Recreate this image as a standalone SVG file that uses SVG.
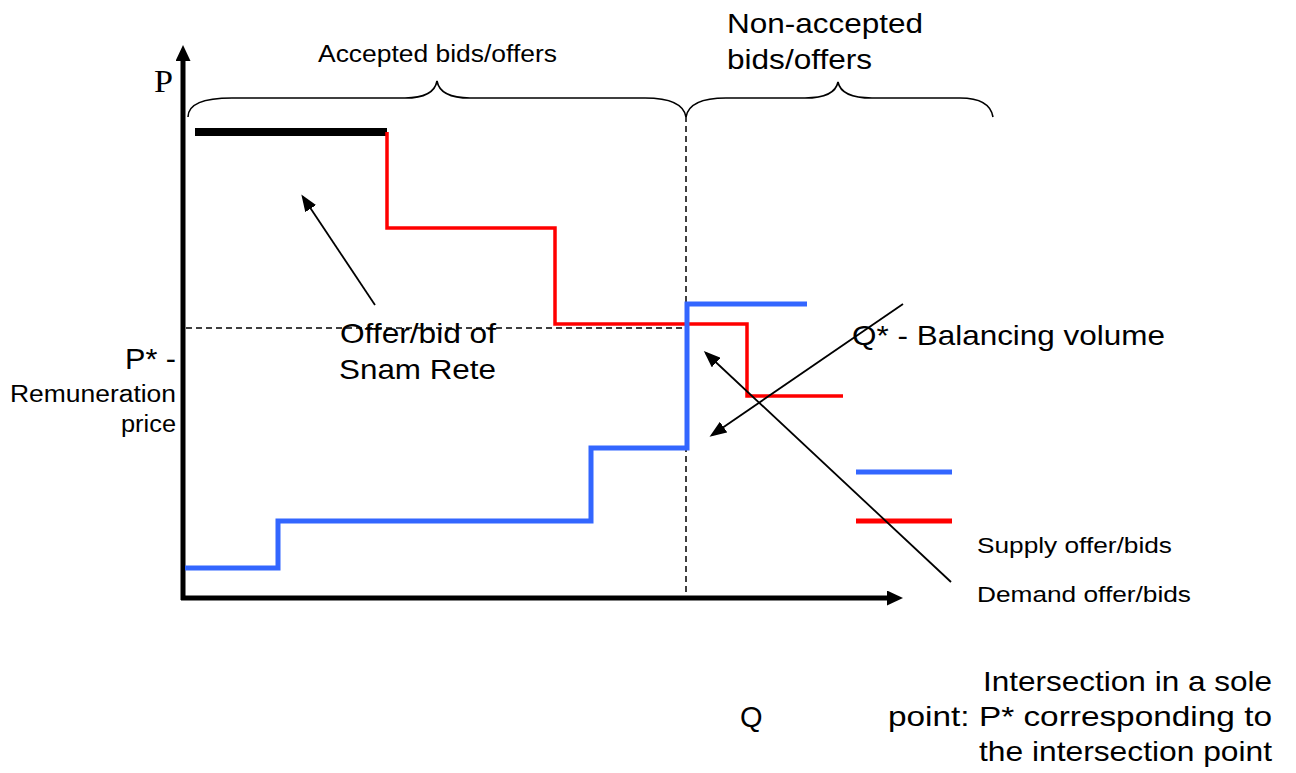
<svg xmlns="http://www.w3.org/2000/svg" width="1296" height="773" viewBox="0 0 1296 773">
<style>
  .t { font-family: "Liberation Sans", Arial, sans-serif; fill: #000; }
  .serif { font-family: "Liberation Serif", "Times New Roman", serif; fill: #000; }
  .axis { stroke: #000; stroke-width: 5; fill: none; }
  .dash { stroke: #000; stroke-width: 1.5; stroke-dasharray: 6 4; fill: none; }
  .brace { stroke: #000; stroke-width: 1.6; fill: none; }
  .supply { stroke: #3366ff; stroke-width: 5; fill: none; }
  .demand { stroke: #ff0000; stroke-width: 3.5; fill: none; }
  .ptr { stroke: #000; stroke-width: 1.8; fill: none; marker-end: url(#ah); }
</style>
<defs>
  <marker id="axh" markerUnits="userSpaceOnUse" markerWidth="16" markerHeight="15" refX="1" refY="7.5" orient="auto">
    <path d="M0,0 L16,7.5 L0,15 z" fill="#000"/>
  </marker>
  <marker id="ah" markerUnits="userSpaceOnUse" markerWidth="17" markerHeight="13" refX="14" refY="6.5" orient="auto">
    <path d="M0,0 L17,6.5 L0,13 z" fill="#000"/>
  </marker>
</defs>
<rect width="1296" height="773" fill="#fff"/>

<g id="axes">
  <line class="axis" x1="183" y1="600" x2="183" y2="60" marker-end="url(#axh)"/>
  <line class="axis" x1="181" y1="598" x2="888" y2="598" marker-end="url(#axh)"/>
  <text class="serif" x="154" y="92" font-size="31" textLength="19" lengthAdjust="spacingAndGlyphs">P</text>
  <text class="t" x="740" y="727" font-size="29">Q</text>
</g>

<g id="guides">
  <line class="dash" x1="686" y1="116" x2="686" y2="597"/>
  <line class="dash" x1="186" y1="328" x2="686" y2="328"/>
</g>

<g id="brace-accepted">
  <path class="brace" d="M188,117 C188,105 200,98 232,98 L405,98 C425,98 435,92 437,81 C439,92 449,98 470,98 L645,98 C670,98 684,105 686,117"/>
  <text class="t" x="318" y="62" font-size="23.5" textLength="239" lengthAdjust="spacingAndGlyphs">Accepted bids/offers</text>
</g>

<g id="brace-nonaccepted">
  <path class="brace" d="M686,117 C688,105 700,98 726,98 L805,98 C825,98 836,92 838,82 C840,92 851,98 872,98 L960,98 C982,98 991,105 993,117"/>
  <text class="t" x="727" y="33" font-size="27.5" textLength="196" lengthAdjust="spacingAndGlyphs">Non-accepted</text>
  <text class="t" x="727" y="69" font-size="27.5" textLength="145" lengthAdjust="spacingAndGlyphs">bids/offers</text>
</g>

<g id="snam-bar">
  <line x1="195" y1="132" x2="387" y2="132" stroke="#000" stroke-width="8"/>
</g>

<g id="demand-curve">
  <path class="demand" d="M387,132 V228 H555 V324 H747 V396 H843"/>
</g>

<g id="supply-curve">
  <path class="supply" d="M185,568 H278 V521 H591 V448 H687 V304 H807"/>
</g>

<g id="p-star-label">
  <text class="t" x="125" y="369" font-size="29" textLength="51" lengthAdjust="spacingAndGlyphs">P* -</text>
  <text class="t" x="10" y="402" font-size="23" textLength="166" lengthAdjust="spacingAndGlyphs">Remuneration</text>
  <text class="t" x="121" y="432" font-size="23" textLength="55" lengthAdjust="spacingAndGlyphs">price</text>
</g>

<g id="snam-label">
  <text class="t" x="340" y="343" font-size="27.5" textLength="156" lengthAdjust="spacingAndGlyphs">Offer/bid of</text>
  <text class="t" x="339" y="379" font-size="27.5" textLength="157" lengthAdjust="spacingAndGlyphs">Snam Rete</text>
</g>

<g id="q-star-label">
  <text class="t" x="852" y="345" font-size="28.5" textLength="313" lengthAdjust="spacingAndGlyphs">Q* - Balancing volume</text>
</g>

<g id="legend">
  <line x1="856" y1="472" x2="952" y2="472" stroke="#3366ff" stroke-width="5"/>
  <line x1="856" y1="521" x2="952" y2="521" stroke="#ff0000" stroke-width="5"/>
  <text class="t" x="977" y="553" font-size="22.5" textLength="195" lengthAdjust="spacingAndGlyphs">Supply offer/bids</text>
  <text class="t" x="977" y="602" font-size="22.5" textLength="214" lengthAdjust="spacingAndGlyphs">Demand offer/bids</text>
</g>

<g id="note">
  <text class="t" x="983" y="691" font-size="28.5" textLength="289" lengthAdjust="spacingAndGlyphs">Intersection in a sole</text>
  <text class="t" x="888" y="726" font-size="28.5" textLength="384" lengthAdjust="spacingAndGlyphs">point: P* corresponding to</text>
  <text class="t" x="979" y="761" font-size="28.5" textLength="293" lengthAdjust="spacingAndGlyphs">the intersection point</text>
</g>

<g id="connectors">
  <line class="ptr" x1="375" y1="305" x2="303" y2="197"/>
  <line class="ptr" x1="951" y1="582" x2="706" y2="353"/>
  <line class="ptr" x1="903" y1="304" x2="712" y2="435"/>
</g>
</svg>
